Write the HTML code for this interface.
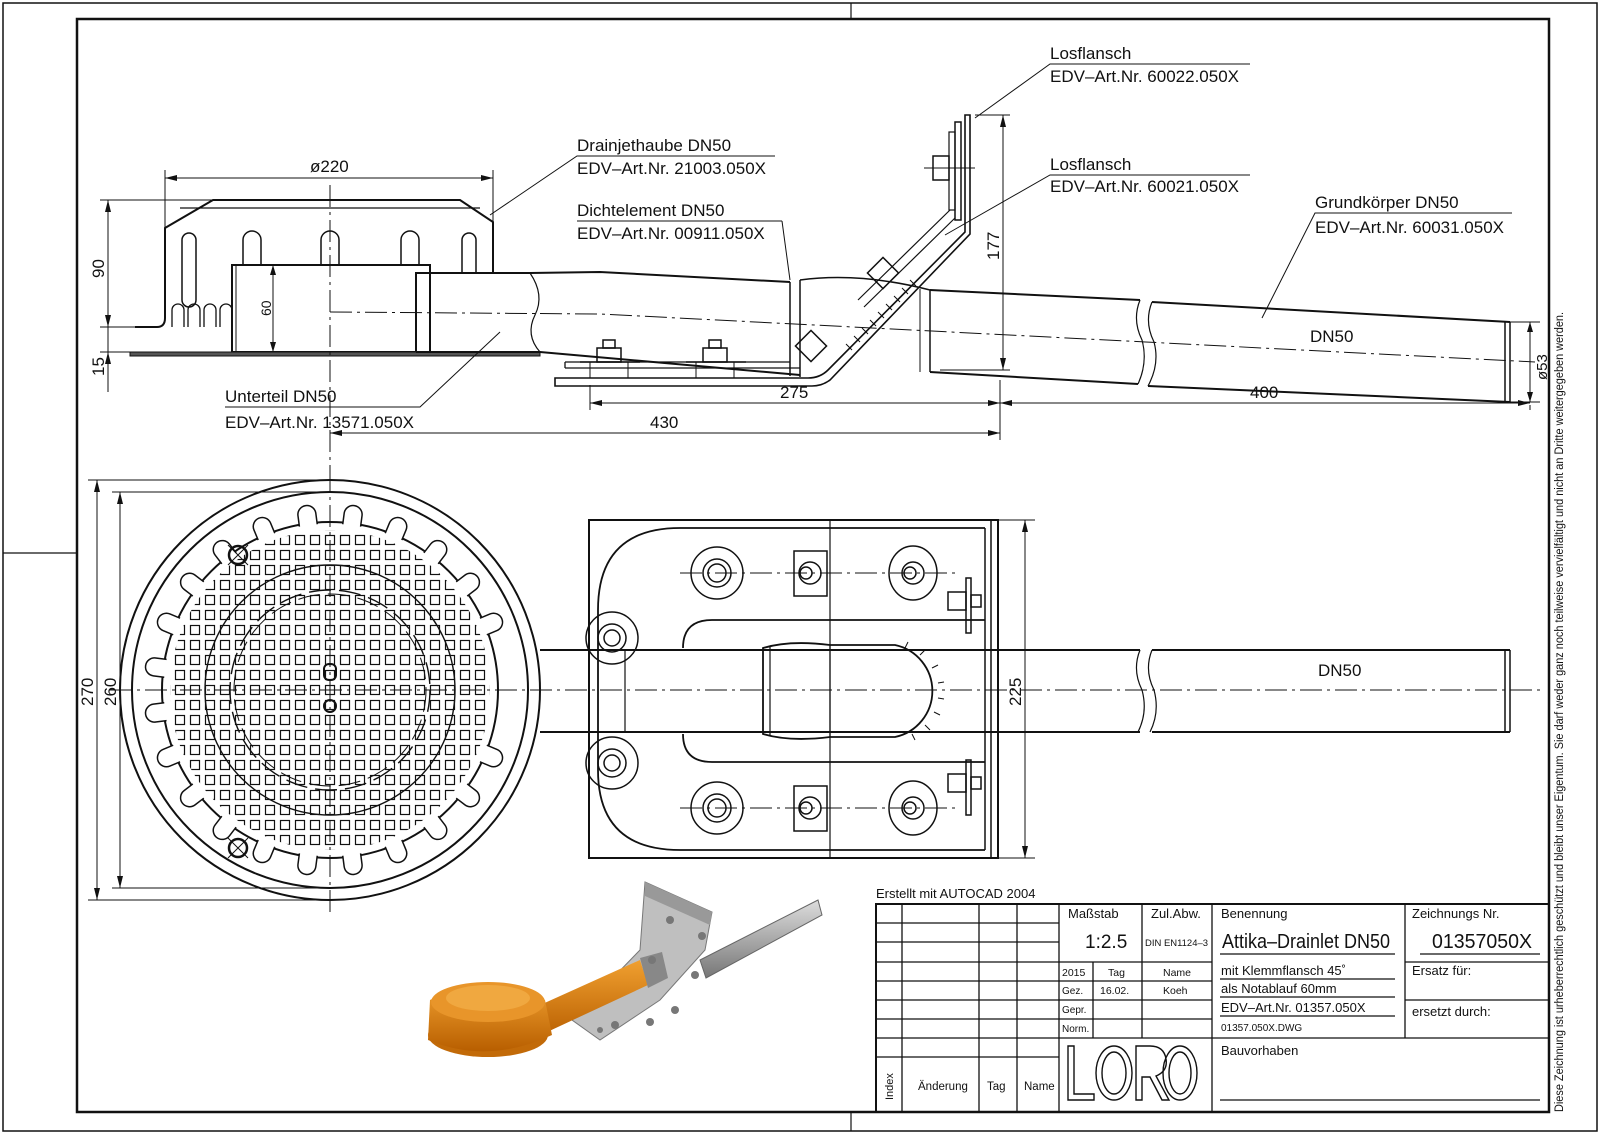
<!DOCTYPE html>
<html><head><meta charset="utf-8"><style>
html,body{margin:0;padding:0;background:#fff}
svg{display:block}
text{font-family:"Liberation Sans Narrow","Liberation Sans",sans-serif;fill:#111}
</style></head><body>
<svg width="1600" height="1133" viewBox="0 0 1600 1133" xmlns="http://www.w3.org/2000/svg">
<defs>
<pattern id="grid" x="322.5" y="682.5" width="15" height="15" patternUnits="userSpaceOnUse">
<rect x="3" y="3" width="9" height="9" fill="none" stroke="#111" stroke-width="1.2"/>
</pattern>
<clipPath id="gc"><circle cx="330" cy="690" r="160"/></clipPath>
<path id="sc" d="M321,524 V513 A9,9 0 0 1 339,513 V524" fill="#fff" stroke="#111" stroke-width="1.5"/>
<linearGradient id="or" x1="0" y1="0" x2="0" y2="1"><stop offset="0" stop-color="#f0a030"/><stop offset="1" stop-color="#b85e00"/></linearGradient>
<linearGradient id="gr" x1="0" y1="0" x2="0" y2="1"><stop offset="0" stop-color="#ddd"/><stop offset="1" stop-color="#777"/></linearGradient>
</defs>
<g fill="none" stroke="#111">
<rect x="3" y="3" width="1594" height="1128" stroke-width="1.5"/>
<rect x="77" y="19" width="1472" height="1093" stroke-width="2.5"/>
<line x1="851" y1="3" x2="851" y2="19" stroke-width="1.2"/>
<line x1="851" y1="1112" x2="851" y2="1131" stroke-width="1.2"/>
<line x1="3" y1="553" x2="77" y2="553" stroke-width="1.2"/>
</g>
<text transform="translate(1563,1112) rotate(-90)" font-size="11.5" textLength="800" lengthAdjust="spacingAndGlyphs">Diese Zeichnung ist urheberrechtlich geschützt und bleibt unser Eigentum. Sie darf weder ganz noch teilweise vervielfältigt und nicht an Dritte weitergegeben werden.</text>

<!-- ===== TOP VIEW ===== -->
<g fill="none" stroke="#111" stroke-width="2">
<path d="M493,272 V222 L460,200 H213 L165,228 V318 Q165,327 157,327 H135"/>
<line x1="180" y1="208" x2="480" y2="208" stroke-width="1.2"/>
<path d="M182,300 V240 A7,7 0 0 1 196,240 V300 A7,7 0 0 1 182,300" stroke-width="1.5"/>
<path d="M243,265 V240 A9,9 0 0 1 261,240 V265" stroke-width="1.5"/>
<path d="M321,265 V240 A9,9 0 0 1 339,240 V265" stroke-width="1.5"/>
<path d="M401,265 V240 A9,9 0 0 1 419,240 V265" stroke-width="1.5"/>
<path d="M462,272 V240 A7,7 0 0 1 476,240 V272" stroke-width="1.5"/>
<path d="M172,327 V310 A6,6 0 0 1 184,310 V327 M188,327 V310 A6,6 0 0 1 200,310 V327 M204,327 V310 A6,6 0 0 1 216,310 V327 M220,327 V310 A6,6 0 0 1 232,310 V327" stroke-width="1.3"/>
<rect x="232" y="265" width="198" height="87"/>
<line x1="236" y1="265" x2="236" y2="352" stroke-width="1"/>
<rect x="130" y="352" width="410" height="4" fill="#555" stroke-width="1"/>
<path d="M416,352 V273 H530 L600,272 L790,282"/>
<path d="M416,352 H540 L800,375"/>
<path d="M530,273 Q545,295 535,315 Q525,335 540,352" stroke-width="1.2"/>
<path d="M790,282 L790,376 M800,280 V377" stroke-width="1.5"/>
<path d="M800,280 Q860,272 930,290 M930,290 V372" stroke-width="1.5"/>
<line x1="920" y1="289" x2="920" y2="372" stroke-width="1"/>
<path d="M930,290 L1140,300 M930,372 L1138,384"/>
<path d="M1152,302 L1510,322 M1148,386 L1510,402"/>
<path d="M1140,300 Q1132,320 1142,340 Q1148,362 1138,384 M1152,302 Q1144,322 1154,342 Q1160,364 1148,386" stroke-width="1.2"/>
<path d="M1505,322 V402 M1510,322 V402" stroke-width="1.5"/>
<path d="M555,378 H808 Q820,378 828,370 L965,232 V115 H970 V234 L830,380 Q822,386 812,386 H555 Z" stroke-width="1.6"/>
<path d="M565,362 H790 M565,368 H800 M565,362 V368" stroke-width="1.3"/>
<rect x="955" y="122" width="6" height="98" stroke-width="1.5"/>
<rect x="949" y="132" width="6" height="78" stroke-width="1.2"/>
<rect x="933" y="156" width="16" height="24" stroke-width="1.5"/>
<line x1="924" y1="168" x2="975" y2="168" stroke-width="1"/>
<path d="M858,300 L950,210 M864,307 L955,218" stroke-width="1.2"/>
<rect x="872" y="262" width="22" height="22" transform="rotate(-45 883 273)" stroke-width="1.5"/>
<rect x="800" y="335" width="22" height="22" transform="rotate(-45 811 346)" stroke-width="1.5"/>
<path d="M870,320 l6,6 M878,312 l6,6 M886,304 l6,6 M894,296 l6,6 M902,288 l6,6 M910,280 l6,6 M862,328 l6,6 M854,336 l6,6 M846,344 l6,6" stroke-width="1"/>
<rect x="597" y="348" width="24" height="14" stroke-width="1.5"/><rect x="603" y="340" width="12" height="8" stroke-width="1.5"/>
<rect x="703" y="348" width="24" height="14" stroke-width="1.5"/><rect x="709" y="340" width="12" height="8" stroke-width="1.5"/>
<path d="M590,362 V378 M628,362 V378 M696,362 V378 M734,362 V378" stroke-width="1"/>
<line x1="580" y1="362" x2="640" y2="362" stroke-width="1.5"/>
<line x1="686" y1="362" x2="746" y2="362" stroke-width="1.5"/>
</g>
<g stroke="#111" stroke-width="1" stroke-dasharray="22,5,3,5" fill="none">
<line x1="330" y1="185" x2="330" y2="470"/>
<path d="M330,312 L600,314 L1535,362"/>
</g>
<g stroke="#111" stroke-width="1" fill="none">
<line x1="165" y1="178" x2="493" y2="178"/>
<line x1="165" y1="170" x2="165" y2="228"/><line x1="493" y1="170" x2="493" y2="222"/>
<line x1="108" y1="200" x2="108" y2="392"/>
<line x1="100" y1="200" x2="213" y2="200"/><line x1="100" y1="327" x2="135" y2="327"/><line x1="100" y1="352" x2="130" y2="352"/>
<line x1="273" y1="265" x2="273" y2="352"/>
<line x1="975" y1="115" x2="1010" y2="115"/><line x1="1003" y1="115" x2="1003" y2="370"/><line x1="940" y1="370" x2="1010" y2="370"/>
<line x1="590" y1="385" x2="590" y2="410"/><line x1="1000" y1="380" x2="1000" y2="440"/><line x1="1530" y1="405" x2="1530" y2="410"/>
<line x1="590" y1="403" x2="1530" y2="403"/>
<line x1="330" y1="433" x2="1000" y2="433"/>
<line x1="1510" y1="322" x2="1540" y2="322"/><line x1="1510" y1="402" x2="1540" y2="402"/><line x1="1530" y1="322" x2="1530" y2="402"/>
<path d="M775,156 H577 L490,215"/>
<path d="M782,221 H577 M782,221 L790,280"/>
<path d="M1250,64 H1050 L975,118"/>
<path d="M1250,175 H1050 L945,235"/>
<path d="M1512,213 H1315 L1262,318"/>
<path d="M225,407 H420 L500,332"/>
</g>
<g fill="#111">
<path d="M165,178 l12,-3 v6z M493,178 l-12,-3 v6z"/>
<path d="M108,200 l-3,12 h6z M108,327 l-3,-12 h6z M108,352 l-3,12 h6z"/>
<path d="M273,265 l-3,10 h6z M273,352 l-3,-10 h6z"/>
<path d="M1003,115 l-3,12 h6z M1003,370 l-3,-12 h6z"/>
<path d="M590,403 l12,-3 v6z M1000,403 l-12,-3 v6z M1000,403 l12,-3 v6z M1530,403 l-12,-3 v6z"/>
<path d="M330,433 l12,-3 v6z M1000,433 l-12,-3 v6z"/>
<path d="M1530,322 l-3,10 h6z M1530,402 l-3,-10 h6z"/>
</g>
<g font-size="17">
<text x="310" y="172">ø220</text>
<text transform="translate(104,278) rotate(-90)">90</text>
<text transform="translate(104,376) rotate(-90)">15</text>
<text transform="translate(271,316) rotate(-90)" font-size="14">60</text>
<text transform="translate(999,260) rotate(-90)">177</text>
<text x="780" y="398">275</text>
<text x="1250" y="398">400</text>
<text x="650" y="428">430</text>
<text transform="translate(1547,380) rotate(-90)" font-size="15">ø53</text>
<text x="1310" y="342">DN50</text>
<text x="577" y="151">Drainjethaube DN50</text>
<text x="577" y="174">EDV–Art.Nr. 21003.050X</text>
<text x="577" y="216">Dichtelement DN50</text>
<text x="577" y="239">EDV–Art.Nr. 00911.050X</text>
<text x="1050" y="59">Losflansch</text>
<text x="1050" y="82">EDV–Art.Nr. 60022.050X</text>
<text x="1050" y="170">Losflansch</text>
<text x="1050" y="192">EDV–Art.Nr. 60021.050X</text>
<text x="1315" y="208">Grundkörper DN50</text>
<text x="1315" y="233">EDV–Art.Nr. 60031.050X</text>
<text x="225" y="402">Unterteil DN50</text>
<text x="225" y="428">EDV–Art.Nr. 13571.050X</text>
</g>

<!-- ===== PLAN VIEW ===== -->
<g fill="none" stroke="#111" stroke-width="2">
<circle cx="330" cy="690" r="210"/>
<circle cx="330" cy="690" r="198"/>
<circle cx="330" cy="690" r="168"/>
</g>
<g>
<use href="#sc" transform="rotate(7.5 330 690)"/><use href="#sc" transform="rotate(-7.5 330 690)"/>
<use href="#sc" transform="rotate(22.5 330 690)"/><use href="#sc" transform="rotate(-22.5 330 690)"/>
<use href="#sc" transform="rotate(37.5 330 690)"/><use href="#sc" transform="rotate(-37.5 330 690)"/>
<use href="#sc" transform="rotate(52.5 330 690)"/><use href="#sc" transform="rotate(-52.5 330 690)"/>
<use href="#sc" transform="rotate(-67.5 330 690)"/><use href="#sc" transform="rotate(-82.5 330 690)"/>
<use href="#sc" transform="rotate(-97.5 330 690)"/><use href="#sc" transform="rotate(-112.5 330 690)"/>
<use href="#sc" transform="rotate(-127.5 330 690)"/><use href="#sc" transform="rotate(-142.5 330 690)"/>
<use href="#sc" transform="rotate(-157.5 330 690)"/><use href="#sc" transform="rotate(-172.5 330 690)"/>
<use href="#sc" transform="rotate(172.5 330 690)"/><use href="#sc" transform="rotate(157.5 330 690)"/>
<use href="#sc" transform="rotate(142.5 330 690)"/><use href="#sc" transform="rotate(127.5 330 690)"/>
<use href="#sc" transform="rotate(112.5 330 690)"/><use href="#sc" transform="rotate(67.5 330 690)"/>
</g>
<rect x="160" y="520" width="340" height="340" fill="url(#grid)" clip-path="url(#gc)"/>
<g fill="none" stroke="#111">
<circle cx="330" cy="690" r="125" stroke-width="1.4"/>
<circle cx="330" cy="690" r="100" stroke-width="1.4" stroke-dasharray="22,8"/>
<circle cx="330" cy="690" r="96" stroke-width="1" stroke-dasharray="22,8"/>
<circle cx="238" cy="555" r="9" stroke-width="2.5"/><path d="M228,545 l20,20 M248,545 l-20,20" stroke-width="1"/>
<circle cx="238" cy="848" r="9" stroke-width="2.5"/><path d="M228,838 l20,20 M248,838 l-20,20" stroke-width="1"/>
<rect x="324" y="664" width="12" height="16" rx="5" stroke-width="2"/>
<circle cx="330" cy="706" r="6" stroke-width="2"/>
<path d="M540,650 H1140 M540,732 H1140 M1152,650 H1510 M1152,732 H1510" stroke-width="2"/>
<path d="M1140,650 Q1132,670 1142,690 Q1148,712 1138,732 M1152,650 Q1144,670 1154,690 Q1160,712 1150,732" stroke-width="1.2"/>
<path d="M1505,650 V732 M1510,650 V732" stroke-width="1.5"/>
<line x1="625" y1="650" x2="625" y2="732" stroke-width="1.2"/>
<rect x="589" y="520" width="409" height="338" stroke-width="2"/>
<path d="M985,528 V850 M991,520 V858" stroke-width="1.5"/>
<path d="M985,528 H680 Q598,528 598,610 V770 Q598,850 680,850 H985" stroke-width="1.8"/>
<path d="M985,620 H712 Q683,620 683,648 M683,734 Q683,762 712,762 H985" stroke-width="1.8"/>
<line x1="830" y1="520" x2="830" y2="858" stroke-width="1.2"/>
<path d="M763,648 Q790,640 830,645 H895 A47,47 0 0 1 895,737 H830 Q790,742 763,734 Z" stroke-width="1.8"/>
<path d="M770,646 V736 M830,645 V737" stroke-width="1.2"/>
<path d="M905,648 l3,-6 M920,655 l5,-5 M932,668 l6,-3 M938,683 l6,-1 M938,698 l6,1 M934,712 l6,3 M925,725 l5,5 M912,734 l3,6" stroke-width="1"/>
<g stroke-width="1.5">
<circle cx="717" cy="573" r="26"/><circle cx="717" cy="573" r="14"/><circle cx="717" cy="573" r="9"/>
<circle cx="717" cy="808" r="26"/><circle cx="717" cy="808" r="14"/><circle cx="717" cy="808" r="9"/>
<circle cx="612" cy="638" r="26"/><circle cx="612" cy="638" r="14"/><circle cx="612" cy="638" r="8"/>
<circle cx="612" cy="763" r="26"/><circle cx="612" cy="763" r="14"/><circle cx="612" cy="763" r="8"/>
<rect x="794" y="551" width="33" height="45"/><circle cx="810" cy="573" r="11"/><circle cx="806" cy="573" r="6"/>
<rect x="794" y="786" width="33" height="45"/><circle cx="810" cy="808" r="11"/><circle cx="806" cy="808" r="6"/>
<ellipse cx="913" cy="573" rx="24" ry="27"/><circle cx="913" cy="573" r="11"/><circle cx="910" cy="573" r="6"/>
<ellipse cx="913" cy="808" rx="24" ry="27"/><circle cx="913" cy="808" r="11"/><circle cx="910" cy="808" r="6"/>
<rect x="966" y="578" width="5" height="55"/><rect x="948" y="592" width="18" height="18"/><rect x="971" y="595" width="10" height="12"/>
<rect x="966" y="760" width="5" height="55"/><rect x="948" y="774" width="18" height="18"/><rect x="971" y="777" width="10" height="12"/>
</g>
</g>
<g stroke="#111" stroke-width="1" stroke-dasharray="22,5,3,5" fill="none">
<line x1="330" y1="470" x2="330" y2="915"/>
<line x1="110" y1="690" x2="1540" y2="690"/>
<line x1="680" y1="573" x2="960" y2="573"/>
<line x1="680" y1="808" x2="960" y2="808"/>
</g>
<g stroke="#111" stroke-width="1" fill="none">
<line x1="88" y1="480" x2="330" y2="480"/><line x1="88" y1="900" x2="330" y2="900"/>
<line x1="97" y1="480" x2="97" y2="900"/>
<line x1="112" y1="492" x2="330" y2="492"/><line x1="112" y1="888" x2="330" y2="888"/>
<line x1="120" y1="492" x2="120" y2="888"/>
<line x1="998" y1="520" x2="1035" y2="520"/><line x1="998" y1="858" x2="1035" y2="858"/>
<line x1="1025" y1="520" x2="1025" y2="858"/>
</g>
<g fill="#111">
<path d="M97,480 l-3,12 h6z M97,900 l-3,-12 h6z M120,492 l-3,12 h6z M120,888 l-3,-12 h6z M1025,520 l-3,12 h6z M1025,858 l-3,-12 h6z"/>
</g>
<g font-size="17">
<text transform="translate(93,706) rotate(-90)">270</text>
<text transform="translate(116,706) rotate(-90)">260</text>
<text transform="translate(1021,706) rotate(-90)">225</text>
<text x="1318" y="676">DN50</text>
</g>

<!-- ===== 3D render ===== -->
<g>
<path d="M700,960 L818,900 L822,915 L706,978 Z" fill="url(#gr)" stroke="#666"/>
<path d="M645,882 L712,912 L705,950 L660,1000 L600,1040 L572,1020 L640,950 Z" fill="#bfbfbf" stroke="#777"/>
<path d="M645,882 L712,912 L710,925 L645,896 Z" fill="#999"/>
<path d="M518,1015 L640,960 L648,985 L530,1040 Z" fill="url(#or)"/>
<path d="M640,958 L662,952 L668,978 L648,988 Z" fill="#888"/>
<ellipse cx="488" cy="1035" rx="60" ry="22" fill="#c26a08"/>
<path d="M430,1000 Q488,970 545,1000 L552,1035 Q488,1065 428,1040 Z" fill="url(#or)"/>
<ellipse cx="488" cy="1002" rx="57" ry="20" fill="#e8952a"/>
<ellipse cx="488" cy="998" rx="42" ry="13" fill="#f0a840"/>
<g fill="#777"><circle cx="670" cy="920" r="4"/><circle cx="702" cy="936" r="4"/><circle cx="652" cy="960" r="4"/><circle cx="695" cy="975" r="4"/><circle cx="615" cy="1025" r="4"/><circle cx="650" cy="1022" r="4"/><circle cx="675" cy="1010" r="4"/><circle cx="600" cy="1030" r="3"/></g>
</g>

<!-- ===== TITLE BLOCK ===== -->
<g stroke="#111" fill="none">
<rect x="876" y="904" width="673" height="208" stroke-width="2"/>
<g stroke-width="1.3">
<path d="M902,904 V1112 M979,904 V1112 M1017,904 V1112 M1059,904 V1112 M1212,904 V1112 M1405,904 V1038"/>
<path d="M1142,904 V1038 M1093,962 V1038"/>
<path d="M876,923 H1059 M876,942 H1059 M876,962 H1212 M876,981 H1212 M876,1000 H1212 M876,1019 H1212 M876,1038 H1549 M876,1057 H1059"/>
<path d="M1405,962 H1549 M1405,1000 H1549"/>
<path d="M1220,954 H1395 M1420,954 H1540 M1220,979 H1395 M1220,997 H1395 M1220,1016 H1395 M1220,1100 H1540"/>
</g>
<g stroke-width="1.4">
<path d="M1068,1046 V1100 H1094 V1094 H1074 V1046 Z"/>
<ellipse cx="1114" cy="1073" rx="18" ry="27"/><ellipse cx="1114" cy="1073" rx="12" ry="21"/>
<path d="M1136,1046 V1100 H1142 V1077 H1150 L1162,1100 H1169 L1156,1076 Q1168,1071 1166,1059 Q1164,1046 1150,1046 Z"/>
<ellipse cx="1180" cy="1073" rx="17" ry="27"/><ellipse cx="1180" cy="1073" rx="11" ry="21"/>
</g>
</g>
<g font-size="13">
<text x="876" y="898">Erstellt mit AUTOCAD 2004</text>
<text x="1068" y="918">Maßstab</text>
<text x="1151" y="918">Zul.Abw.</text>
<text x="1221" y="918">Benennung</text>
<text x="1412" y="918">Zeichnungs Nr.</text>
<text x="1085" y="948" font-size="19">1:2.5</text>
<text x="1145" y="946" font-size="9" textLength="63" lengthAdjust="spacingAndGlyphs">DIN EN1124–3</text>
<text x="1222" y="948" font-size="20" textLength="168" lengthAdjust="spacingAndGlyphs">Attika–Drainlet DN50</text>
<text x="1432" y="948" font-size="20" textLength="100" lengthAdjust="spacingAndGlyphs">01357050X</text>
<text x="1062" y="976" font-size="10.5">2015</text>
<text x="1108" y="976" font-size="10.5">Tag</text>
<text x="1163" y="976" font-size="10.5">Name</text>
<text x="1062" y="994" font-size="10">Gez.</text>
<text x="1100" y="994" font-size="10.5">16.02.</text>
<text x="1163" y="994" font-size="10.5">Koeh</text>
<text x="1062" y="1013" font-size="10">Gepr.</text>
<text x="1062" y="1032" font-size="10">Norm.</text>
<text x="1221" y="975">mit Klemmflansch 45˚</text>
<text x="1221" y="993">als Notablauf 60mm</text>
<text x="1221" y="1012">EDV–Art.Nr. 01357.050X</text>
<text x="1221" y="1031" font-size="10">01357.050X.DWG</text>
<text x="1412" y="975">Ersatz für:</text>
<text x="1412" y="1016">ersetzt durch:</text>
<text x="1221" y="1055">Bauvorhaben</text>
<text x="918" y="1090" font-size="11.5">Änderung</text>
<text x="987" y="1090" font-size="11.5">Tag</text>
<text x="1024" y="1090" font-size="11.5">Name</text>
<text transform="translate(893,1100) rotate(-90)" font-size="11">Index</text>
</g>
</svg>
</body></html>
